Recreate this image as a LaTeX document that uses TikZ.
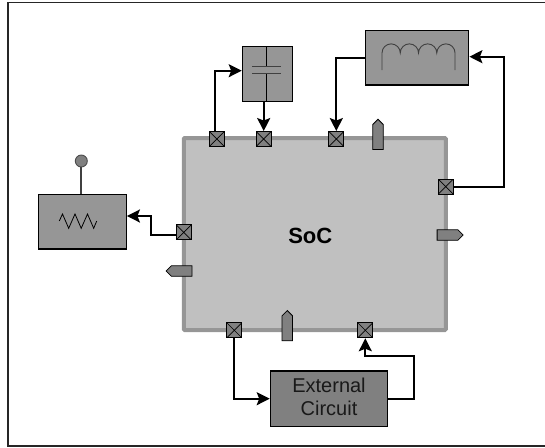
\documentclass[tikz,border=0pt]{standalone}
\usepackage{fontspec}
\setmainfont{Liberation Sans}
\usepackage{tikz}
\usetikzlibrary{arrows.meta}
\usetikzlibrary{shapes.symbols}
\definecolor{socfill}{HTML}{C0C0C0}
\definecolor{midgray}{HTML}{969696}
\definecolor{darkgray}{HTML}{808080}
\definecolor{inkgray}{HTML}{404040}

\begin{document}
\begin{tikzpicture}[x=1pt, y=-1pt, >={Stealth[length=13pt,width=13pt,inset=2.5pt]},
  wire/.style={line width=2pt},
  part/.style={draw=black, line width=1.2pt, fill=midgray, inner sep=0pt},
  glyph/.style={draw=inkgray, line width=0.9pt},
  pad/.style={draw=black, line width=0.9pt, fill=darkgray, minimum size=15pt, inner sep=0pt,
    path picture={\draw[line width=0.7pt] (path picture bounding box.south west)--(path picture bounding box.north east)
      (path picture bounding box.north west)--(path picture bounding box.south east);}},
  pin/.style={signal, signal pointer angle=90, draw=black, line width=0.8pt, fill=darkgray, inner sep=0pt},
  pinv/.style={pin, minimum width=10.5pt, minimum height=25pt},
  pinh/.style={pin, minimum width=26pt, minimum height=10.5pt},
  ]
\useasboundingbox (0,0) rectangle (545,447);
\draw[line width=1.4pt, draw=black!85] (545,2.5) -- (8,2.5) -- (8,446) -- (545,446);

\node (soc) at (314.8,234) [draw=midgray, fill=socfill, line width=4pt, rounded corners=1pt, minimum width=262pt, minimum height=192pt] {};
\node (soclabel) at (310.3,235.5) {\fontsize{22}{26}\selectfont\bfseries SoC};

\node (cap) at (267.3,74.2) [part, minimum width=50pt, minimum height=55pt] {};
\node (ind) at (417.3,57.9) [part, minimum width=103pt, minimum height=54.3pt] {};
\node (osc) at (82.3,221.7) [part, minimum width=88pt, minimum height=54.7pt] {};
\node (ext) at (329,398.7) [part, fill=darkgray, minimum width=117.4pt, minimum height=55.3pt, align=center, text=black!90, text depth=4pt, font=\fontsize{20}{22.5}\selectfont] {External\\Circuit};
\node (ant) at (81.3,161) [circle, draw=black!70, line width=0.9pt, fill=darkgray, minimum size=12pt, inner sep=0pt] {};

\node (pad1) at (216.8,139) [pad] {};
\node (pad2) at (263.7,139) [pad] {};
\node (pad3) at (336.3,139) [pad] {};
\node (pad4) at (445.7,186.7) [pad] {};
\node (pad5) at (183.7,232.3) [pad] {};
\node (pad6) at (234.3,330.3) [pad] {};
\node (pad7) at (365.3,330.3) [pad] {};

\node (pin1) at (378,137) [pinv, signal to=north] {};
\node (pin2) at (447.5,235) [pinh, signal to=east] {};
\node (pin3) at (181.7,271) [pinh, signal to=west] {};
\node (pin4) at (287.3,328.3) [pinv, signal to=north] {};

\coordinate (turnind) at (504,56.7);
\coordinate (turnosc) at (151.3,234.7);
\coordinate (turnext) at (414.3,355.7);

\draw [wire, ->] ([xshift=-1.5pt]pad1.north) |- ([yshift=3.5pt]cap.west);
\draw [wire, ->] (cap.south -| pad2) -- (pad2.north);
\draw [wire, ->] (ind.west) -| (pad3.north);
\draw [wire, ->] (pad4.east) -| (turnind) -- (ind.east |- turnind);
\draw [wire, ->] (pad5.west |- turnosc) -- (turnosc) |- ([yshift=5.7pt]osc.east);
\draw [wire, ->] (pad6.south) |- (ext.west);
\draw [wire, ->] (ext.east) -| (turnext) -| (pad7.south);
\draw [line width=1.7pt, draw=inkgray] (ant) -- (osc.north -| ant);

% capacitor
\draw [glyph, draw=black] (266.3,46.7) -- (266.3,66.3) (266.3,73.3) -- (266.3,101.7);
\draw [glyph] (252,66.3) -- (281,66.3) (252,73.3) -- (281,73.3);
% inductor
\draw [glyph] (382,70) -- (382,53) arc[start angle=180, end angle=0, radius=9.13pt]
  arc[start angle=180, end angle=0, radius=9.13pt]
  arc[start angle=180, end angle=0, radius=9.13pt]
  arc[start angle=180, end angle=0, radius=9.13pt] -- (455,70);
% resistor
\draw [glyph, line width=0.8pt, draw=black] (59.3,221) -- (62.5,214) -- (68.7,228.3) -- (75,214) -- (81.2,228.3) -- (87.5,214) -- (93.7,228.3) -- (96.7,221);
\end{tikzpicture}
\end{document}
